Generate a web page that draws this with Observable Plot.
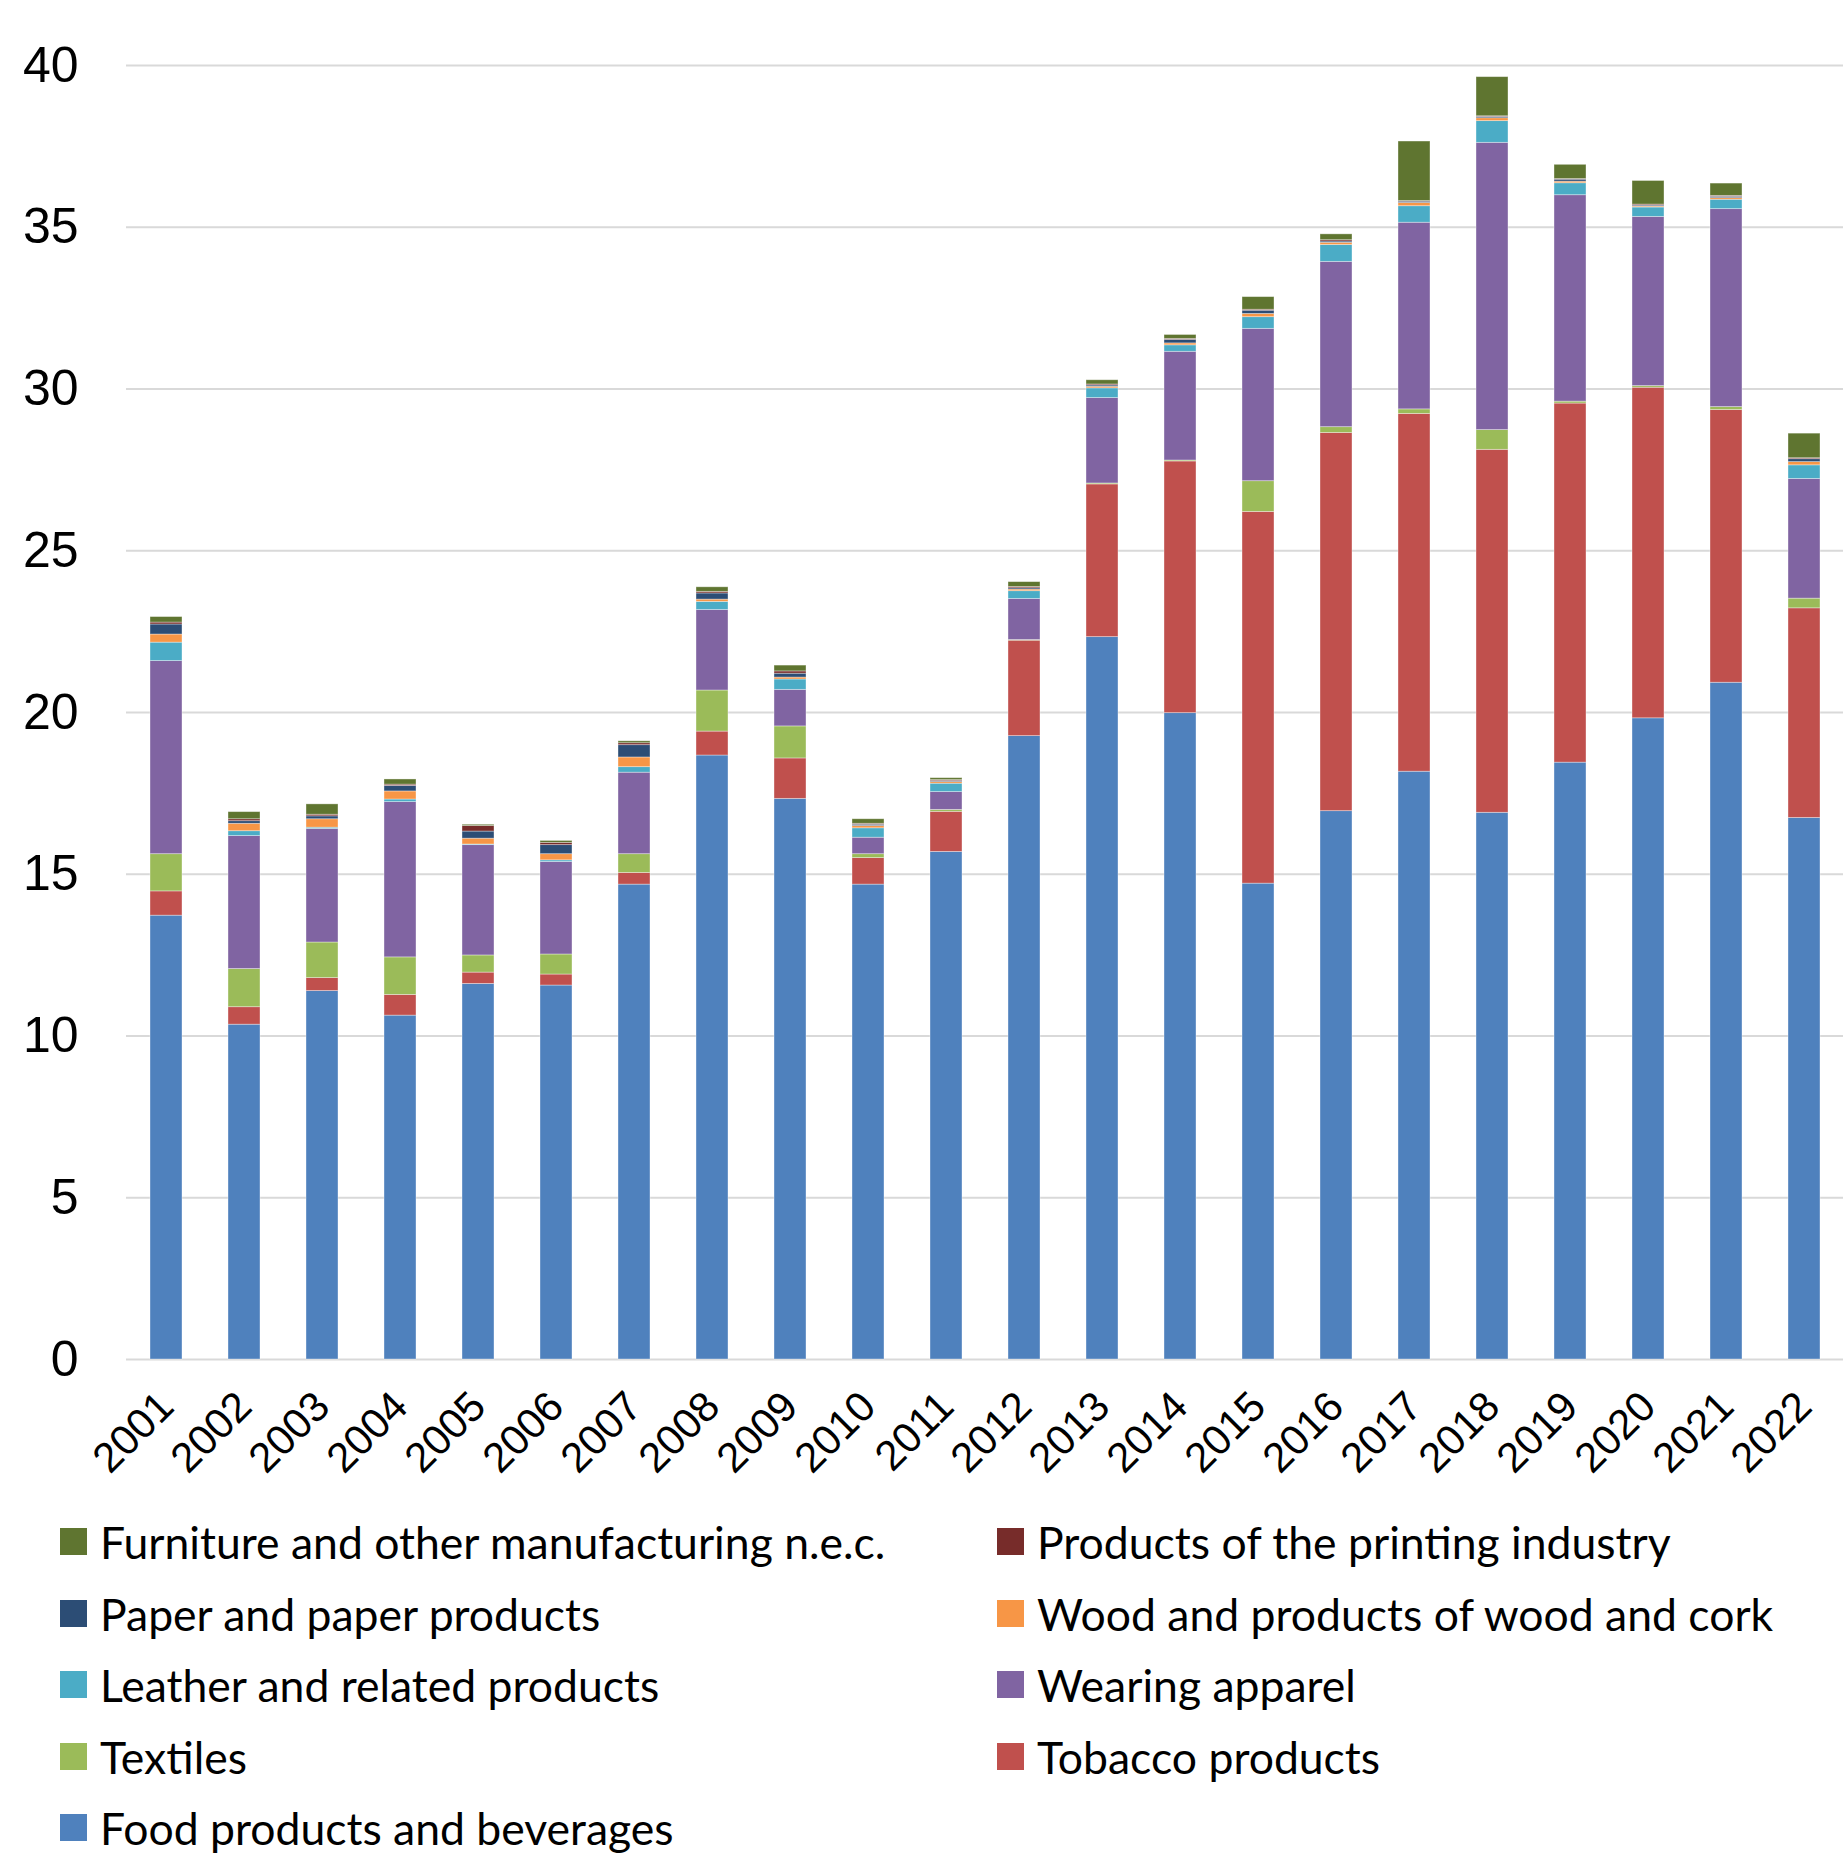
<!DOCTYPE html>
<html>
<head>
<meta charset="utf-8">
<script src="https://cdn.jsdelivr.net/npm/d3@7"></script>
<script src="https://cdn.jsdelivr.net/npm/@observablehq/plot@0.6"></script>
<style>
  html, body { margin: 0; padding: 0; background: #ffffff; }
  #chart svg { display: block; }
  #legend {
    display: grid;
    grid-template-columns: 937px auto;
    grid-auto-rows: 71.5px;
    padding-left: 60px;
    margin-top: 16px;
    font-family: Lato, "Open Sans", sans-serif;
    font-size: 44.5px;
    color: #000;
  }
  .item { display: flex; align-items: center; white-space: nowrap; }
  .swatch { width: 27px; height: 27px; margin-right: 13px; flex: none; }
</style>
</head>
<body>
<div id="chart"></div>
<div id="legend"></div>
<script>
// Years on the category axis
const years = ["2001","2002","2003","2004","2005","2006","2007","2008","2009","2010","2011",
               "2012","2013","2014","2015","2016","2017","2018","2019","2020","2021","2022"];

// Product groups, bottom of the stack first
const seriesNames = [
  "Food products and beverages",
  "Tobacco products",
  "Textiles",
  "Wearing apparel",
  "Leather and related products",
  "Wood and products of wood and cork",
  "Paper and paper products",
  "Products of the printing industry",
  "Furniture and other manufacturing n.e.c."
];
const seriesColors = ["#4F81BD","#C0504D","#9BBB59","#8064A2","#4BACC6","#F79646","#2C4D75","#772C2A","#5F7530"];

// Values per year, 2001–2022
const food      = [13.72,10.35,11.39,10.63,11.61,11.56,14.68,18.67,17.33,14.68,15.69,19.27,22.33,19.98,14.71,16.95,18.17,16.90,18.45,19.82,20.92,16.74];
const tobacco   = [0.75,0.54,0.40,0.64,0.35,0.34,0.36,0.74,1.25,0.82,1.24,2.95,4.72,7.78,11.49,11.69,11.06,11.22,11.10,10.22,8.43,6.48];
const textiles  = [1.15,1.18,1.10,1.16,0.53,0.62,0.58,1.27,0.99,0.12,0.06,0.02,0.03,0.03,0.95,0.18,0.14,0.61,0.06,0.05,0.09,0.30];
const apparel   = [5.97,4.11,3.51,4.80,3.41,2.86,2.52,2.49,1.13,0.51,0.55,1.27,2.64,3.36,4.71,5.11,5.77,8.88,6.38,5.23,6.12,3.70];
const leather   = [0.57,0.15,0.04,0.08,0.02,0.05,0.17,0.25,0.32,0.29,0.26,0.24,0.30,0.20,0.36,0.52,0.51,0.67,0.37,0.29,0.29,0.42];
const wood      = [0.25,0.23,0.26,0.25,0.18,0.19,0.30,0.07,0.06,0.07,0.05,0.05,0.05,0.06,0.10,0.07,0.10,0.09,0.05,0.03,0.05,0.10];
const paper     = [0.31,0.08,0.09,0.17,0.22,0.28,0.38,0.19,0.12,0.04,0.03,0.04,0.04,0.11,0.10,0.04,0.04,0.04,0.06,0.03,0.04,0.09];
const printing  = [0.06,0.06,0.05,0.04,0.17,0.07,0.06,0.05,0.07,0.03,0.03,0.04,0.03,0.03,0.03,0.04,0.02,0.02,0.02,0.03,0.03,0.03];
const furniture = [0.17,0.22,0.32,0.16,0.04,0.06,0.06,0.14,0.18,0.14,0.06,0.15,0.13,0.12,0.39,0.18,1.84,1.21,0.44,0.73,0.38,0.76];

const yTicks = [0,5,10,15,20,25,30,35,40];

// Legend reads row by row in two columns
const legendOrder = [
  "Furniture and other manufacturing n.e.c.", "Products of the printing industry",
  "Paper and paper products", "Wood and products of wood and cork",
  "Leather and related products", "Wearing apparel",
  "Textiles", "Tobacco products",
  "Food products and beverages"
];

// Long table for the stacked bars
const seriesValues = [food, tobacco, textiles, apparel, leather, wood, paper, printing, furniture];
const rows = [];
seriesNames.forEach((name, s) => {
  years.forEach((year, i) => rows.push({year, series: name, value: seriesValues[s][i]}));
});

const chart = Plot.plot({
  width: 1843,
  height: 1490,
  marginTop: 65,
  marginBottom: 131,
  marginLeft: 126,
  marginRight: 0,
  style: {fontFamily: "'Liberation Sans', Arial, sans-serif", color: "#000", background: "#fff"},
  x: {domain: years, paddingInner: 0.59, paddingOuter: 0.295, label: null},
  y: {domain: [0, 40], label: null},
  color: {domain: seriesNames, range: seriesColors},
  marks: [
    Plot.ruleY(yTicks, {stroke: "#d9d9d9", strokeWidth: 2}),
    Plot.barY(rows, {
      x: "year", y: "value", fill: "series", order: seriesNames,
      stroke: "#ffffff", strokeOpacity: 0.45, strokeWidth: 0.8
    }),
    Plot.axisY(yTicks, {tickSize: 0, tickPadding: 48, fontSize: 50, label: null}),
    Plot.axisX({tickSize: 0, tickPadding: 40, tickRotate: -45, fontSize: 42, label: null})
  ]
});
document.getElementById("chart").appendChild(chart);

// Swatch legend below the chart
const legend = document.getElementById("legend");
legendOrder.forEach(name => {
  const item = document.createElement("div");
  item.className = "item";
  const sw = document.createElement("span");
  sw.className = "swatch";
  sw.style.background = seriesColors[seriesNames.indexOf(name)];
  const label = document.createElement("span");
  label.textContent = name;
  item.appendChild(sw);
  item.appendChild(label);
  legend.appendChild(item);
});
</script>
</body>
</html>
